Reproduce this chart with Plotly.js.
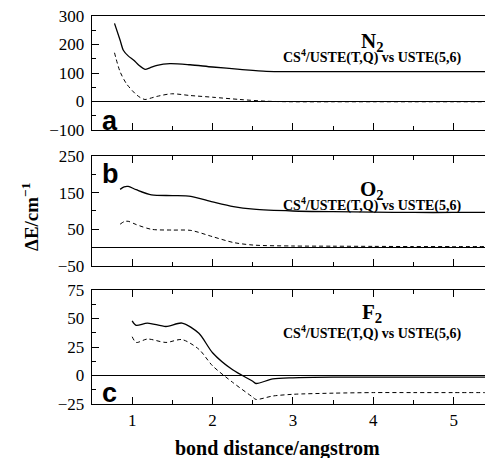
<!DOCTYPE html>
<html><head><meta charset="utf-8">
<script src="https://cdn.plot.ly/plotly-3.0.1.min.js"></script>
<style>body{margin:0;padding:0;background:#fff}#chart{width:485px;height:458px}
.ytick text, .xtick text, .y2tick text, .y3tick text, .x3tick text {font-family: 'Liberation Serif', serif !important;}</style>
</head><body><div id="chart"></div>
<script>
// N2 panel (a)
const n2X = [0.78, 0.85, 0.89, 0.95, 1.02, 1.08, 1.16, 1.22, 1.31, 1.47, 1.72, 2.0, 2.34, 2.67, 3.0, 3.5, 4.0, 4.5, 5.0, 5.4];
const n2Solid = [274, 215, 180, 160, 145, 128, 113, 118, 127, 133, 129, 121, 113, 106, 105, 105, 105, 105, 105, 105];
const n2DashX = [0.78, 0.85, 0.93, 1.04, 1.1, 1.16, 1.22, 1.31, 1.49, 1.72, 2.0, 2.34, 2.67, 3.0, 3.5, 4.0, 4.5, 5.0, 5.4];
const n2Dash = [171, 104, 62, 27, 14, 7, 11, 18, 27, 21, 15, 7, 1, -1, -1, -1, -1, -1, -1];
// O2 panel (b)
const o2X = [0.85, 0.9, 0.95, 1.05, 1.24, 1.5, 1.73, 2.0, 2.26, 2.51, 3.0, 3.5, 4.0, 4.5, 5.0, 5.4];
const o2Solid = [159, 166, 167, 158, 144, 142, 140, 125, 112, 105, 100, 98, 97, 96, 96, 96];
const o2Dash = [64, 71, 72, 63, 50, 48, 47, 30, 14, 7, 4.5, 4, 3.5, 3, 3, 3];
// F2 panel (c)
const f2X = [1.0, 1.05, 1.19, 1.42, 1.62, 1.83, 2.0, 2.25, 2.5, 2.54, 2.75, 3.0, 3.5, 4.0, 4.5, 5.0, 5.4];
const f2Solid = [48, 44, 46, 43, 46, 37, 20, 5, -5, -7, -3, -2, -1.5, -1.5, -1.5, -1.5, -1.5];
const f2Dash = [34, 29, 32, 29, 31.5, 23, 8.5, -6, -19, -21, -18, -16.5, -15.5, -15, -15, -15, -15];

const panelNames = ['N<sub>2</sub>', 'O<sub>2</sub>', 'F<sub>2</sub>'];
const subtitle = 'CS<sup>4</sup>/USTE(T,Q) vs USTE(5,6)';
const xTicks = [1, 2, 3, 4, 5];

const solidLine = {color: '#000', width: 1.3, shape: 'spline', smoothing: 0.8};
const dashLine = {color: '#000', width: 1, dash: '4px,3px', shape: 'spline', smoothing: 0.8};

const data = [
  {x: n2X, y: n2Solid, mode: 'lines', line: solidLine, xaxis: 'x', yaxis: 'y'},
  {x: n2DashX, y: n2Dash, mode: 'lines', line: dashLine, xaxis: 'x', yaxis: 'y'},
  {x: o2X, y: o2Solid, mode: 'lines', line: solidLine, xaxis: 'x2', yaxis: 'y2'},
  {x: o2X, y: o2Dash, mode: 'lines', line: dashLine, xaxis: 'x2', yaxis: 'y2'},
  {x: f2X, y: f2Solid, mode: 'lines', line: solidLine, xaxis: 'x3', yaxis: 'y3'},
  {x: f2X, y: f2Dash, mode: 'lines', line: dashLine, xaxis: 'x3', yaxis: 'y3'}
];

const serifFam = 'Liberation Serif';
const sansFam = 'Liberation Sans';
const tickFont = {family: serifFam, size: 17, color: '#000'};
function xax(anchor, showLabels, mirror) {
  return {
    anchor: anchor, range: [0.5, 5.39], tickvals: xTicks, ticks: 'inside', ticklen: 7, tickwidth: 1,
    tickcolor: '#000', showticklabels: showLabels, tickfont: tickFont,
    showline: true, linecolor: '#000', linewidth: 1.3, mirror: mirror, showgrid: false, zeroline: false,
    minor: {dtick: 0.5, tick0: 0, ticks: 'inside', ticklen: 4, tickcolor: '#000', showgrid: false}
  };
}
function yax(anchor, domain, range, tickvals, minorDtick) {
  return {
    anchor: anchor, domain: domain, range: range, tickvals: tickvals, ticks: 'inside', ticklen: 7,
    tickcolor: '#000', tickfont: tickFont, showline: true, linecolor: '#000', linewidth: 1.3,
    showgrid: false, zeroline: true, zerolinecolor: '#000', zerolinewidth: 1.2, ticklabelstandoff: 3,
    minor: {dtick: minorDtick, ticks: 'inside', ticklen: 4, tickcolor: '#000', showgrid: false}
  };
}

const annotations = [];
const nameY = [42, 190, 313];
const subY = [57, 204, 332];
const letterY = [121, 174, 393];
const letters = ['a', 'b', 'c'];
for (let i = 0; i < 3; i++) {
  annotations.push({xref: 'paper', yref: 'paper', x: (372 - 92) / 393, y: 1 - (nameY[i] - 16) / 388,
    text: '<b>' + panelNames[i] + '</b>', showarrow: false, xanchor: 'center', yanchor: 'middle',
    font: {family: serifFam, size: 21, color: '#000'}});
  annotations.push({xref: 'paper', yref: 'paper', x: (372 - 92) / 393, y: 1 - (subY[i] - 16) / 388,
    text: '<b>' + subtitle + '</b>', showarrow: false, xanchor: 'center', yanchor: 'middle',
    font: {family: serifFam, size: 14, color: '#000'}});
  annotations.push({xref: 'paper', yref: 'paper', x: (100 - 92) / 393, y: 1 - (letterY[i] - 16) / 388,
    text: '<b>' + letters[i] + '</b>', showarrow: false, xanchor: 'left', yanchor: 'middle',
    font: {family: sansFam, size: 27, color: '#000'}});
}
annotations.push({xref: 'paper', yref: 'paper', x: (30 - 92) / 393, y: 1 - (217 - 16) / 388,
  text: '<b>ΔE/cm<sup>−1</sup></b>', showarrow: false, textangle: -90, xanchor: 'center', yanchor: 'middle',
  font: {family: serifFam, size: 19, color: '#000'}});
annotations.push({xref: 'paper', yref: 'paper', x: (277 - 92) / 393, y: 1 - (448 - 16) / 388,
  text: '<b>bond distance/angstrom</b>', showarrow: false, xanchor: 'center', yanchor: 'middle',
  font: {family: serifFam, size: 20, color: '#000'}});

const layout = {
  width: 485, height: 458, showlegend: false,
  font: {family: serifFam, color: '#000'},
  margin: {l: 92, r: 0, t: 16, b: 54},
  paper_bgcolor: '#fff', plot_bgcolor: '#fff',
  xaxis: xax('y', false, true),
  xaxis2: xax('y2', false, 'ticks'),
  xaxis3: xax('y3', true, 'ticks'),
  yaxis: yax('x', [0.7062, 1], [-100, 300], [-100, 0, 100, 200, 300], 50),
  yaxis2: yax('x2', [0.3557, 0.6392], [-50, 250], [-50, 50, 150, 250], 50),
  yaxis3: yax('x3', [0, 0.2938], [-25, 75], [-25, 0, 25, 50, 75], 12.5),
  annotations: annotations
};
Plotly.newPlot('chart', data, layout, {displayModeBar: false, staticPlot: true});
</script></body></html>
